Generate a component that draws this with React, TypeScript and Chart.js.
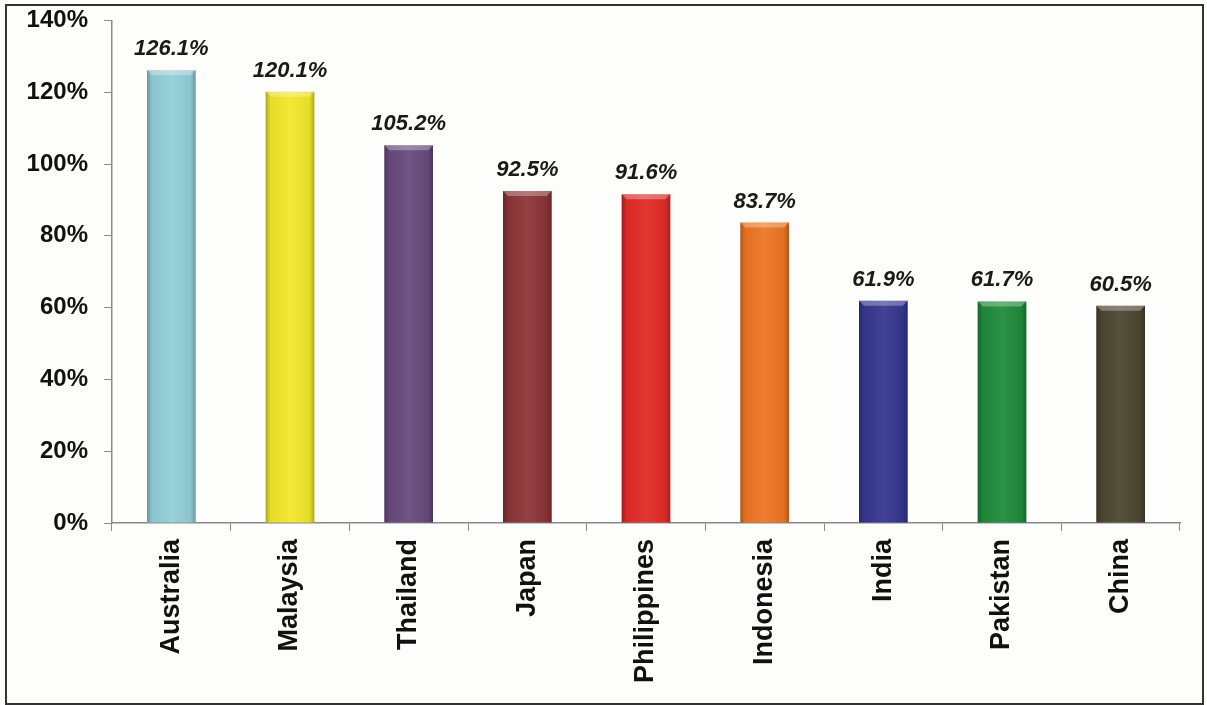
import React, { useEffect, useRef } from "react";
import { Chart, registerables } from "chart.js";

Chart.register(...registerables);

const categories = ["Australia", "Malaysia", "Thailand", "Japan", "Philippines", "Indonesia", "India", "Pakistan", "China"];
const values = [126.1, 120.1, 105.2, 92.5, 91.6, 83.7, 61.9, 61.7, 60.5];
const barColors = ["#93CFD8", "#F2E82A", "#674B7C", "#8C3538", "#E22B28", "#EE7623", "#36378F", "#1F8B3B", "#4B4731"];
const yTicks = [0, 20, 40, 60, 80, 100, 120, 140];

const W = 1207;
const H = 705;
const SHIFT = 10;

const bevelPlugin = {
  id: "bevel",
  afterDatasetsDraw(chart: any) {
    const ctx = chart.ctx;
    const meta = chart.getDatasetMeta(0);
    meta.data.forEach((bar: any) => {
      const { x, y, base, width } = bar.getProps(["x", "y", "base", "width"], true);
      const l = x - width / 2;
      const r = x + width / 2;
      ctx.save();
      const g = ctx.createLinearGradient(l, 0, r, 0);
      g.addColorStop(0, "rgba(0,0,0,0.28)");
      g.addColorStop(0.1, "rgba(0,0,0,0.05)");
      g.addColorStop(0.5, "rgba(255,255,255,0.06)");
      g.addColorStop(0.9, "rgba(0,0,0,0.05)");
      g.addColorStop(1, "rgba(0,0,0,0.28)");
      ctx.fillStyle = g;
      ctx.fillRect(l, y, width, base - y);
      const b = 5;
      ctx.beginPath();
      ctx.moveTo(l, y);
      ctx.lineTo(r, y);
      ctx.lineTo(r - b, y + b);
      ctx.lineTo(l + b, y + b);
      ctx.closePath();
      ctx.fillStyle = "rgba(255,255,255,0.3)";
      ctx.fill();
      ctx.restore();
    });
  },
};

const labelPlugin = {
  id: "valueLabels",
  afterDatasetsDraw(chart: any) {
    const ctx = chart.ctx;
    const meta = chart.getDatasetMeta(0);
    ctx.save();
    ctx.font = 'italic bold 22px "Liberation Sans", Arial, sans-serif';
    ctx.fillStyle = "#1a1a1a";
    ctx.textAlign = "center";
    ctx.textBaseline = "alphabetic";
    meta.data.forEach((bar: any, i: number) => {
      ctx.fillText(values[i].toFixed(1) + "%", bar.x, bar.y - 15);
    });
    ctx.restore();
  },
};

export default function App() {
  const ref = useRef<HTMLCanvasElement | null>(null);

  useEffect(() => {
    document.body.style.margin = "0";
    const canvas = ref.current;
    if (!canvas) return;
    const chart = new Chart(canvas, {
      type: "bar",
      data: {
        labels: categories,
        datasets: [
          {
            data: values,
            backgroundColor: barColors,
            borderWidth: 0,
            barPercentage: 0.41,
            categoryPercentage: 1,
          },
        ],
      },
      options: {
        responsive: false,
        animation: false,
        devicePixelRatio: 1,
        layout: { padding: { left: 0, top: 9, right: 27, bottom: 0 } },
        plugins: { legend: { display: false }, tooltip: { enabled: false } },
        scales: {
          x: {
            grid: { drawOnChartArea: false, drawTicks: true, tickLength: 8, color: "#8a8a8a", offset: true },
            border: { color: "#8a8a8a", width: 1.5 },
            ticks: {
              minRotation: 90,
              maxRotation: 90,
              padding: 8,
              color: "#111",
              font: { family: '"Liberation Sans", Arial, sans-serif', weight: "bold", size: 27 },
            },
            afterFit(scale: any) {
              scale.height = 182;
            },
          },
          y: {
            min: yTicks[0],
            max: yTicks[yTicks.length - 1],
            afterBuildTicks(scale: any) {
              scale.ticks = yTicks.map((v) => ({ value: v }));
            },
            grid: { drawOnChartArea: false, drawTicks: true, tickLength: 8, color: "#8a8a8a" },
            border: { color: "#8a8a8a", width: 1.5 },
            ticks: {
              padding: 16,
              color: "#111",
              font: { family: '"Liberation Sans", Arial, sans-serif', weight: "bold", size: 24 },
              callback: (v: any) => v + "%",
            },
            afterFit(scale: any) {
              scale.width = 112;
            },
          },
        },
      },
      plugins: [bevelPlugin, labelPlugin],
    });
    return () => chart.destroy();
  }, []);

  return (
    <div style={{ position: "relative", width: W, height: H, overflow: "hidden", background: "#fdfdfc" }}>
      <canvas
        ref={ref}
        width={W}
        height={H + SHIFT}
        style={{ position: "absolute", left: 0, top: -SHIFT, width: W, height: H + SHIFT }}
      />
      <div
        style={{
          position: "absolute",
          left: 5,
          top: 4,
          width: 1195,
          height: 697,
          border: "2px solid #333",
          pointerEvents: "none",
        }}
      />
    </div>
  );
}
